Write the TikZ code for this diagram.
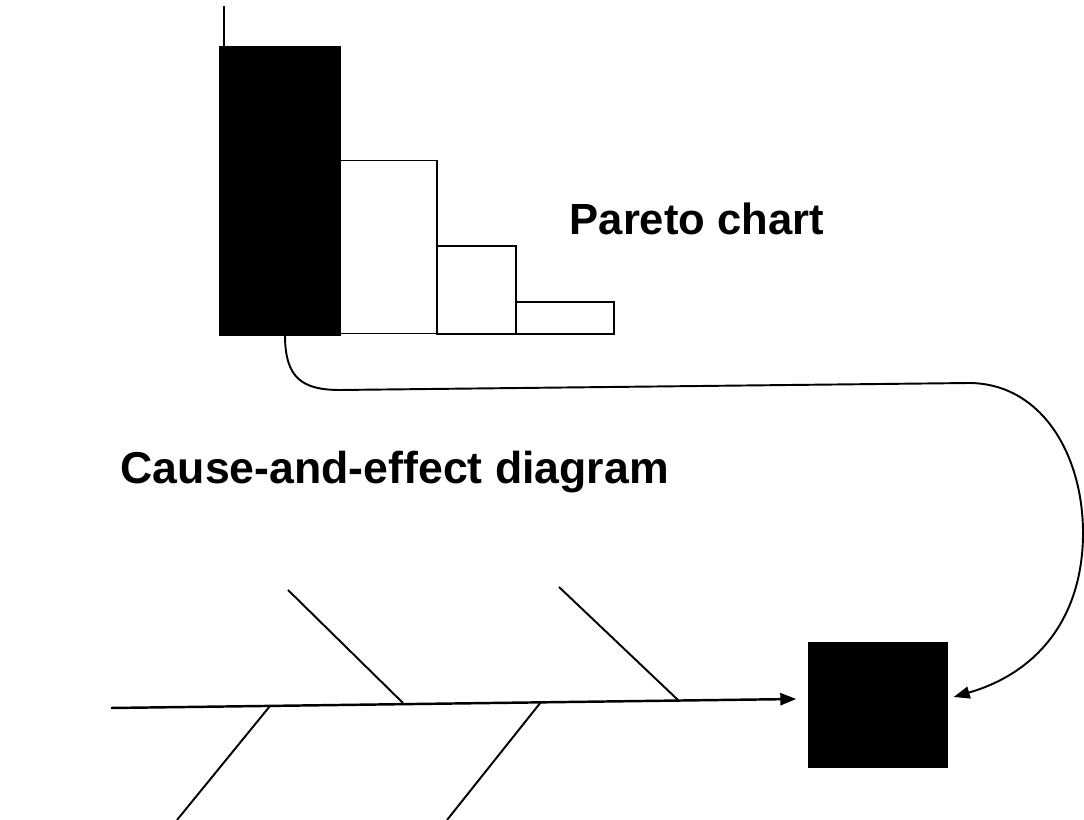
\documentclass[tikz,border=0pt]{standalone}
\usepackage{fontspec}
\setmainfont{Liberation Sans}
\usetikzlibrary{arrows.meta}
\begin{document}
\begin{tikzpicture}[x=0.1mm,y=-0.1mm,
  bar/.style={draw=black,line width=0.5pt,inner sep=0pt,outer sep=0pt,fill=white},
  line/.style={black,line width=0.55pt},
  tip/.style={-{Triangle[length=1.6mm,width=1.2mm]}},
  heading/.style={font=\bfseries\fontsize{12.4pt}{14pt}\selectfont,inner sep=0pt,anchor=base west}]
\useasboundingbox (0,0) rectangle (1084,820);

% Pareto chart bars
\node[bar,fill=black,minimum width=12mm,minimum height=28.8mm] (b1) at (280,191) {};
\node[bar,minimum width=9.7mm,minimum height=17.3mm] (b2) at (388.5,247) {};
\node[bar,minimum width=7.9mm,minimum height=8.8mm] (b3) at (476.5,290) {};
\node[bar,minimum width=9.8mm,minimum height=3.2mm] (b4) at (565,318) {};
\coordinate (axtop) at (224,6);
\draw[line] (axtop) -- (b1.north west -| axtop);

\node[heading] (pareto) at (569,235) {Pareto chart};
\node[heading,font=\bfseries\fontsize{12.7pt}{14pt}\selectfont] (cause) at (120,484) {Cause-and-effect diagram};

% effect box
\node[draw=black,fill=black,minimum width=13.8mm,minimum height=12.4mm,inner sep=0pt] (effect) at (878,705) {};

% link from the largest bar to the effect
\draw[line,tip] ([xshift=0.5mm]b1.south) .. controls (285,378) and (302,390) .. (340,390)
  -- (970,383) .. controls (1042,384) and (1083,455) .. (1083,533)
  .. controls (1083,615) and (1040,672) .. ([xshift=0.6mm,yshift=0.8mm]effect.east);

% fishbone
\coordinate (tail) at (111,708);
\draw[line,line width=0.7pt,tip] (tail) -- ([xshift=-1.2mm,yshift=0.6mm]effect.west);
\coordinate (u1a) at (288,590); \coordinate (u1b) at (403,703);
\coordinate (u2a) at (559,587); \coordinate (u2b) at (678,700);
\coordinate (l1a) at (270,706); \coordinate (l1b) at (177,820);
\coordinate (l2a) at (541,702); \coordinate (l2b) at (447,820);
\draw[line] (u1a) -- (u1b);
\draw[line] (u2a) -- (u2b);
\draw[line] (l1a) -- (l1b);
\draw[line] (l2a) -- (l2b);
\end{tikzpicture}
\end{document}
